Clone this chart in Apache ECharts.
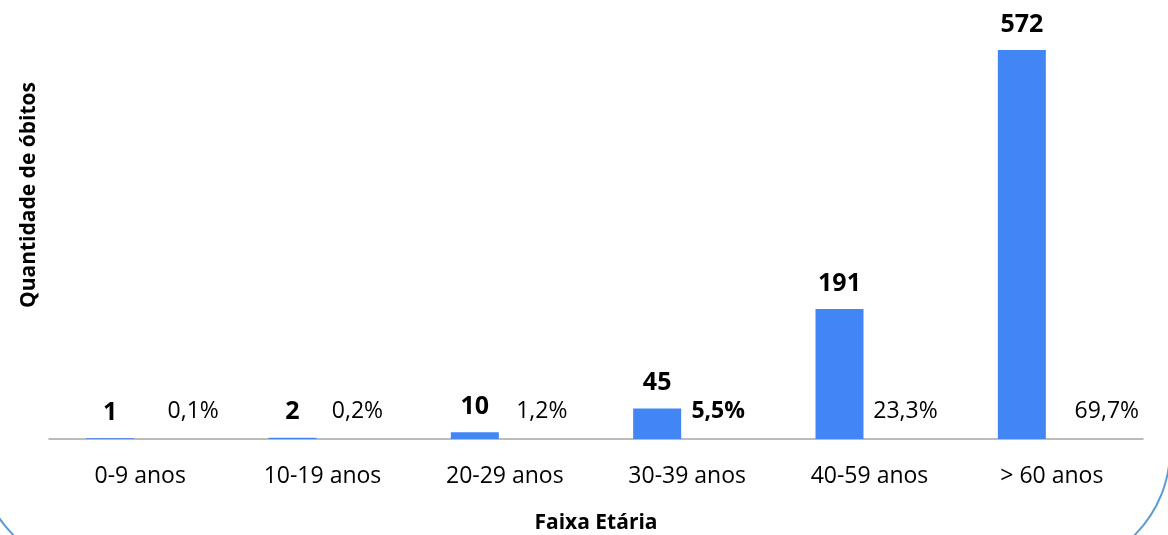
<!DOCTYPE html>
<html>
<head>
<meta charset="utf-8">
<script src="https://cdn.jsdelivr.net/npm/echarts@6/dist/echarts.min.js"></script>
<style>
  html, body { margin: 0; padding: 0; background: #fff; }
  #chart { width: 1168px; height: 535px; }
</style>
</head>
<body>
<div id="chart"></div>
<script>
var faixas = ['0-9 anos', '10-19 anos', '20-29 anos', '30-39 anos', '40-59 anos', '> 60 anos'];
var obitos = [1, 2, 10, 45, 191, 572];
var percentuais = ['0,1%', '0,2%', '1,2%', '5,5%', '23,3%', '69,7%'];
var pctNegrito = [false, false, false, true, false, false];
var pctDeslocX = [23, 5, 7, 1, 6, 25];

var fonte = 'Open Sans';
var myChart = echarts.init(document.getElementById('chart'));

var pctData = percentuais.map(function (p, i) {
    return {
        value: 0,
        label: {
            offset: [pctDeslocX[i], 0],
            fontWeight: pctNegrito[i] ? 'bold' : 'normal'
        }
    };
});

var option = {
    animation: false,
    grid: {
        left: 49,
        right: 25,
        top: 50,
        bottom: 96,
        outerBoundsMode: 'none'
    },
    graphic: [
        {
            type: 'rect',
            z: -10,
            shape: { x: -22, y: -200, width: 1192, height: 770, r: 120 },
            style: { fill: 'none', stroke: '#5b9bd5', lineWidth: 2 }
        },
        {
            type: 'text',
            left: 19,
            top: 82,
            rotation: Math.PI / 2,
            style: {
                text: 'Quantidade de óbitos',
                font: 'bold 21px "' + fonte + '"',
                fill: '#000'
            }
        }
    ],
    xAxis: {
        type: 'category',
        data: faixas,
        name: 'Faixa Etária',
        nameLocation: 'middle',
        nameGap: 74,
        nameTextStyle: {
            fontFamily: fonte,
            fontWeight: 'bold',
            fontSize: 21,
            color: '#000'
        },
        axisLine: { lineStyle: { color: '#a6a6a6', width: 1.5 } },
        axisTick: { show: false },
        axisLabel: {
            margin: 26,
            fontFamily: fonte,
            fontSize: 23,
            color: '#000'
        }
    },
    yAxis: {
        type: 'value',
        min: 0,
        max: 572,
        show: false,
        splitLine: { show: false }
    },
    series: [
        {
            name: 'Óbitos',
            type: 'bar',
            barWidth: 48,
            barGap: '25%',
            data: obitos,
            itemStyle: { color: '#4285f4' },
            label: {
                show: true,
                position: 'top',
                distance: 13,
                fontFamily: fonte,
                fontWeight: 'bold',
                fontSize: 25,
                color: '#000'
            }
        },
        {
            name: 'Percentual',
            type: 'bar',
            barWidth: 48,
            data: pctData,
            itemStyle: { color: 'transparent' },
            label: {
                show: true,
                position: 'top',
                distance: 16,
                fontFamily: fonte,
                fontSize: 23,
                color: '#000',
                formatter: function (p) { return percentuais[p.dataIndex]; }
            }
        }
    ]
};
myChart.setOption(option);
</script>
</body>
</html>
